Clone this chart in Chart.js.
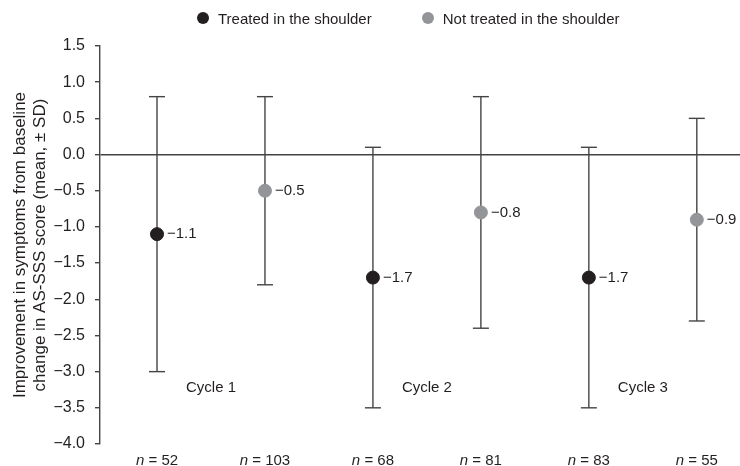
<!DOCTYPE html>
<html>
<head>
<meta charset="utf-8">
<script src="https://cdn.jsdelivr.net/npm/chart.js@4"></script>
<style>
    body { margin: 0; background: #fff; font-family: "Liberation Sans", Arial, sans-serif; color: #231f20; overflow: hidden; }
    #wrap { position: relative; width: 740px; height: 466px; }
    .legend { position: absolute; left: 0; top: 0; z-index: 2; height: 36px; display: flex; align-items: center; padding-left: 197px; font-size: 15px; }
    .legend span.item { display: flex; align-items: center; margin-right: 50px; }
    .legend i { display: inline-block; width: 12px; height: 12px; border-radius: 50%; margin-right: 9px; }
    #box { position: relative; width: 740px; height: 466px; }
</style>
</head>
<body>
<div id="wrap">
    <div class="legend">
        <span class="item"><i style="background:#231f20"></i>Treated in the shoulder</span>
        <span class="item"><i style="background:#939598"></i>Not treated in the shoulder</span>
    </div>
    <div id="box"><canvas id="myChart"></canvas></div>
</div>
<script>
    "use strict";
    // one point per group, left to right
    var groupX = [1, 2, 3, 4, 5, 6];
    var nLabels = ["52", "103", "68", "81", "83", "55"];
    var treated = [true, false, true, false, true, false];
    var meanValues = [-1.1, -0.5, -1.7, -0.8, -1.7, -0.9];
    var sdValues = [1.9, 1.3, 1.8, 1.6, 1.8, 1.4];
    var cycleLabels = ["Cycle 1", "Cycle 2", "Cycle 3"];
    var cycleX = [1.5, 3.5, 5.5];
    var cycleY = -3.22;
    var yTicks = [1.5, 1.0, 0.5, 0.0, -0.5, -1.0, -1.5, -2.0, -2.5, -3.0, -3.5, -4.0];

    var darkColor = "#231f20";
    var greyColor = "#939598";
    var barColor = "#444444";
    var fontFamily = "'Liberation Sans', Arial, sans-serif";

    function fmt(v) {
        return (v < 0 ? "\u2212" : "") + Math.abs(v).toFixed(1);
    }

    var datasets = [];
    // error bars (mean ± SD)
    groupX.forEach(function (x, i) {
        datasets.push({
            type: "scatter",
            showLine: true,
            data: [{x: x, y: meanValues[i] - sdValues[i]}, {x: x, y: meanValues[i] + sdValues[i]}],
            borderColor: barColor,
            borderWidth: 1.4,
            pointStyle: "line",
            pointRadius: 8,
            pointBorderColor: barColor,
            pointBorderWidth: 1.4,
            order: 2,
        });
    });
    // means
    datasets.push({
        type: "scatter",
        data: groupX.filter(function (x, i) { return treated[i]; }).map(function (x) {
            return {x: x, y: meanValues[x - 1]};
        }),
        backgroundColor: darkColor,
        borderColor: darkColor,
        pointRadius: 6.5,
        order: 1,
    });
    datasets.push({
        type: "scatter",
        data: groupX.filter(function (x, i) { return !treated[i]; }).map(function (x) {
            return {x: x, y: meanValues[x - 1]};
        }),
        backgroundColor: greyColor,
        borderColor: greyColor,
        pointRadius: 6.5,
        order: 1,
    });

    var textPlugin = {
        id: "textPlugin",
        afterDraw: function (chart) {
            var ctx = chart.ctx;
            var xs = chart.scales.x;
            var ys = chart.scales.y;
            ctx.save();
            ctx.fillStyle = darkColor;
            ctx.textBaseline = "middle";
            ctx.font = "15px " + fontFamily;

            // value labels
            ctx.textAlign = "left";
            groupX.forEach(function (x, i) {
                ctx.fillText(fmt(meanValues[i]), xs.getPixelForValue(x) + 10, ys.getPixelForValue(meanValues[i]));
            });

            // cycle labels
            ctx.textAlign = "center";
            cycleLabels.forEach(function (t, i) {
                ctx.fillText(t, xs.getPixelForValue(cycleX[i]), ys.getPixelForValue(cycleY));
            });

            // n = ...
            var yBottom = chart.chartArea.bottom + 17;
            groupX.forEach(function (x, i) {
                var rest = " = " + nLabels[i];
                ctx.font = "italic 15px " + fontFamily;
                var w1 = ctx.measureText("n").width;
                ctx.font = "15px " + fontFamily;
                var w2 = ctx.measureText(rest).width;
                var left = xs.getPixelForValue(x) - (w1 + w2) / 2;
                ctx.textAlign = "left";
                ctx.font = "italic 15px " + fontFamily;
                ctx.fillText("n", left, yBottom);
                ctx.font = "15px " + fontFamily;
                ctx.fillText(rest, left + w1, yBottom);
            });
            ctx.restore();
        }
    };

    new Chart(document.getElementById("myChart"), {
        type: "scatter",
        data: {datasets: datasets},
        plugins: [textPlugin],
        options: {
            responsive: true,
            maintainAspectRatio: false,
            animation: false,
            layout: {
                autoPadding: false,
                padding: {left: 0, right: 0, top: 46, bottom: 22},
            },
            plugins: {
                legend: {display: false},
                tooltip: {enabled: false},
            },
            scales: {
                x: {
                    type: "linear",
                    display: false,
                    min: 0.472,
                    max: 6.4,
                },
                y: {
                    min: -4,
                    max: 1.5,
                    afterFit: function (scale) {
                        scale.width = 100;
                    },
                    afterBuildTicks: function (scale) {
                        scale.ticks = yTicks.map(function (v) { return {value: v}; });
                    },
                    border: {display: true, color: barColor, width: 1.4},
                    grid: {
                        drawOnChartArea: true,
                        drawTicks: true,
                        tickLength: 5,
                        tickColor: barColor,
                        lineWidth: 1.4,
                        color: function (c) {
                            return c.tick && c.tick.value === 0 ? barColor : "transparent";
                        },
                    },
                    ticks: {
                        padding: 10,
                        color: darkColor,
                        font: {family: fontFamily, size: 16},
                        callback: function (v) { return fmt(v); },
                    },
                    title: {
                        display: true,
                        text: ["Improvement in symptoms from baseline", "change in AS-SSS score (mean, \u00b1 SD)"],
                        color: darkColor,
                        font: {family: fontFamily, size: 17, lineHeight: 1.15},
                        padding: {top: 11, bottom: 0},
                    },
                },
            },
        },
    });
</script>
</body>
</html>
